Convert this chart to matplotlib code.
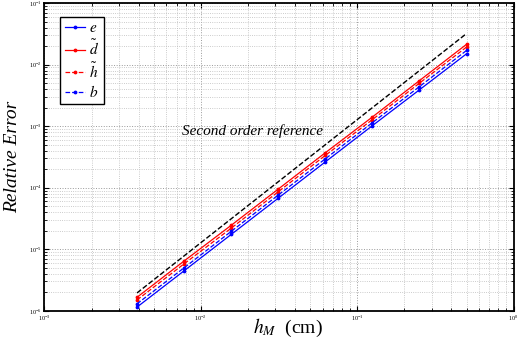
import numpy as np
import matplotlib
matplotlib.use('Agg')
import matplotlib.pyplot as plt
from matplotlib.ticker import LogLocator, NullFormatter

plt.rcParams['font.family'] = ['Liberation Serif', 'DejaVu Serif']
plt.rcParams['mathtext.fontset'] = 'stix'

# 網格大小 h_M (cm)
h = [0.00390625, 0.0078125, 0.015625, 0.03125, 0.0625, 0.125, 0.25, 0.5]

# 各變數的相對誤差
err_e = [1.15e-6, 4.47e-6, 1.74e-5, 6.76e-5, 2.63e-4, 1.02e-3, 3.9e-3, 1.5e-2]
err_d = [1.66e-6, 6.45e-6, 2.45e-5, 9.5e-5, 3.7e-4, 1.41e-3, 5.5e-3, 2.14e-2]
err_h = [1.5e-6, 5.8e-6, 2.2e-5, 8.6e-5, 3.35e-4, 1.28e-3, 5.0e-3, 1.93e-2]
err_b = [1.3e-6, 5.0e-6, 1.95e-5, 7.6e-5, 2.95e-4, 1.14e-3, 4.4e-3, 1.7e-2]

# 二階參考線
ref2 = [1.953e-6, 7.81e-6, 3.125e-5, 1.25e-4, 5e-4, 2e-3, 8e-3, 3.2e-2]

fig = plt.figure(figsize=(5.23, 3.45), dpi=100)
ax = fig.add_axes([0.085, 0.099, 0.897, 0.892])

ax.loglog(h, err_e, 'b.-', lw=0.9, ms=3.5, label=r'$e$')
ax.loglog(h, err_d, 'r.-', lw=0.9, ms=3.5, label=r'$\tilde{d}$')
ax.loglog(h, err_h, 'r.--', lw=0.9, ms=3.5, label=r'$\tilde{h}$')
ax.loglog(h, err_b, 'b.--', lw=0.9, ms=3.5, label=r'$b$')
ax.loglog(h, ref2, 'k--', lw=1.0)

ax.text(0.0076, 8.3e-4, 'Second order reference', fontsize=11, style='italic',
        va='center', ha='left')

ax.set_xlim(1e-3, 1e0)
ax.set_ylim(1e-6, 1e-1)
ax.xaxis.set_major_locator(LogLocator(base=10, numticks=10))
ax.yaxis.set_major_locator(LogLocator(base=10, numticks=10))
ax.xaxis.set_minor_locator(LogLocator(base=10, subs=np.arange(2, 10), numticks=20))
ax.yaxis.set_minor_locator(LogLocator(base=10, subs=np.arange(2, 10), numticks=20))
ax.xaxis.set_minor_formatter(NullFormatter())
ax.yaxis.set_minor_formatter(NullFormatter())

ax.grid(True, which='major', linestyle=':', color='#999999', lw=0.7)
ax.grid(True, which='minor', linestyle=':', color='#bbbbbb', lw=0.6)
ax.tick_params(which='both', direction='in', top=True, right=True, labelsize=4.5, pad=2)
ax.tick_params(which='major', length=3.5, width=0.8)
ax.tick_params(which='minor', length=2, width=0.6)
for s in ax.spines.values():
    s.set_linewidth(1.3)

ax.set_xlabel(r'$h_M$  (cm)', fontsize=14)
ax.xaxis.set_label_coords(0.518, -0.02)
ax.set_ylabel('Relative Error', fontsize=14, style='italic')
ax.yaxis.set_label_coords(-0.05, 0.5)

leg = ax.legend(loc='upper left', bbox_to_anchor=(0.034, 0.955), fontsize=11,
                fancybox=False, edgecolor='k', framealpha=1, handlelength=1.3,
                handletextpad=0.3, borderpad=0.3, labelspacing=0.2, borderaxespad=0)
leg.get_frame().set_linewidth(1.0)

fig.savefig('out.png', dpi=100)
